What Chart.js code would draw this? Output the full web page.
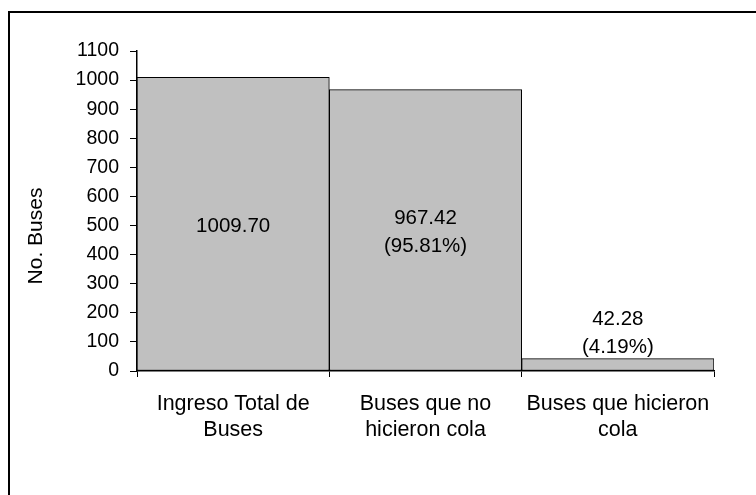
<!DOCTYPE html>
<html>
<head>
<meta charset="utf-8">
<script src="https://cdn.jsdelivr.net/npm/chart.js@4/dist/chart.umd.min.js"></script>
<style>
  html, body { margin: 0; padding: 0; background: #fff; overflow: hidden; }
  #wrap { position: relative; width: 756px; height: 495px; }
  #frame { position: absolute; left: 8px; top: 11px; width: 900px; height: 700px;
           border-left: 2px solid #000; border-top: 2px solid #000; pointer-events: none; }
  canvas { position: absolute; left: 0; top: 0; }
</style>
</head>
<body>
<div id="wrap">
  <canvas id="busChart" width="756" height="495"></canvas>
  <div id="frame"></div>
</div>
<script>
const categories = [
  ['Ingreso Total de', 'Buses'],
  ['Buses que no', 'hicieron cola'],
  ['Buses que hicieron', 'cola']
];
const busValues = [1009.70, 967.42, 42.28];
const barLabels = [
  ['1009.70'],
  ['967.42', '(95.81%)'],
  ['42.28', '(4.19%)']
];
const yTitle = 'No. Buses';

const FONT = "'Liberation Sans', Arial, sans-serif";

// writes the value text in the middle of tall bars, above short ones,
// and the y title a bit below the middle of the axis like the original
const barText = {
  id: 'barText',
  afterDatasetsDraw(chart) {
    const ctx = chart.ctx;
    const meta = chart.getDatasetMeta(0);
    ctx.save();
    ctx.font = '20.5px ' + FONT;
    ctx.fillStyle = '#000';
    ctx.textAlign = 'center';
    ctx.textBaseline = 'middle';
    const lh = 28;
    meta.data.forEach((bar, i) => {
      const lines = barLabels[i];
      const h = bar.base - bar.y;
      let first;
      if (h > 80) {
        first = (bar.y + bar.base) / 2 - (lines.length - 1) * lh / 2 + 2;
      } else {
        first = bar.y - 11 - (lines.length - 1) * lh;
      }
      lines.forEach((t, j) => ctx.fillText(t, bar.x, first + j * lh));
    });

    const area = chart.chartArea;
    ctx.font = '21px ' + FONT;
    ctx.translate(36, (area.top + area.bottom) / 2 + 25);
    ctx.rotate(-Math.PI / 2);
    ctx.fillText(yTitle, 0, 0);
    ctx.restore();
  }
};

new Chart(document.getElementById('busChart'), {
  type: 'bar',
  data: {
    labels: categories,
    datasets: [{
      data: busValues,
      backgroundColor: '#c0c0c0',
      borderColor: '#000',
      borderWidth: 1,
      borderSkipped: false,
      barPercentage: 1,
      categoryPercentage: 1
    }]
  },
  options: {
    responsive: false,
    animation: false,
    layout: { padding: { left: 0, right: 42, top: 51, bottom: 0 } },
    plugins: { legend: { display: false }, tooltip: { enabled: false } },
    scales: {
      x: {
        grid: { display: true, drawOnChartArea: false, drawTicks: true, tickLength: 6, color: '#000', offset: true },
        border: { display: true, color: '#000', width: 1.5 },
        ticks: { color: '#000', font: { family: FONT, size: 21.5, lineHeight: 1.2 }, padding: 14, maxRotation: 0, autoSkip: false },
        afterFit(scale) { scale.height = 124; }
      },
      y: {
        min: 0,
        max: 1100,
        grid: { display: true, drawOnChartArea: false, drawTicks: true, tickLength: 7, color: '#000' },
        border: { display: true, color: '#000', width: 1.5 },
        ticks: { stepSize: 100, color: '#000', font: { family: FONT, size: 19.5 }, padding: 11,
                 callback: v => String(v) },
        afterFit(scale) { scale.width = 137; }
      }
    }
  },
  plugins: [barText]
});
</script>
</body>
</html>
